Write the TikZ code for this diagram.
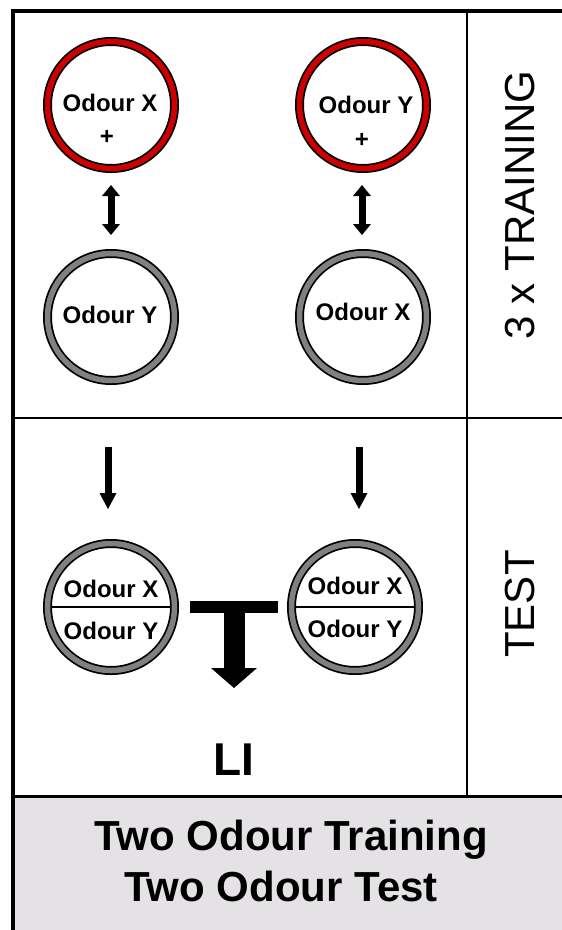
\documentclass[tikz,border=0pt]{standalone}
\usepackage{fontspec}
\setmainfont{Liberation Sans}
\usetikzlibrary{arrows.meta,calc}
\definecolor{ringred}{RGB}{204,0,0}
\definecolor{ringgray}{RGB}{128,128,128}
\definecolor{footgray}{RGB}{228,226,229}
\begin{document}
\begin{tikzpicture}[x=1pt,y=-1pt,
  ring/.style={circle, draw=black, line width=1.75pt, double distance=5.5pt, fill=white, minimum size=127pt, inner sep=0pt, outer sep=4.5pt},
  redring/.style={ring, double=ringred},
  grayring/.style={ring, double=ringgray},
  lbl/.style={font=\fontsize{24}{28}\selectfont\bfseries, inner sep=0pt, anchor=base},
  side/.style={font=\fontsize{42}{50}\selectfont, inner sep=0pt, anchor=base, rotate=90},
  foot/.style={font=\fontsize{42}{50}\selectfont\bfseries, inner sep=0pt, anchor=base},
  dbl/.style={line width=7pt, {Triangle[width=18pt,length=11pt,line width=0pt]}-{Triangle[width=18pt,length=11pt,line width=0pt]}},
  dn/.style={line width=7pt, -{Triangle[width=17pt,length=16pt,line width=0pt]}},
  big/.style={line width=21pt, -{Triangle[width=46pt,length=20pt,line width=0pt]}},
]
\useasboundingbox (0,0) rectangle (562,930);
% frame
\fill[footgray] (13,796) rectangle (562,930);
\draw[line width=4pt] (13,930) -- (13,11) -- (562,11);
\draw[line width=2pt] (13,418) -- (562,418);
\draw[line width=3pt] (13,796) -- (562,796);
\draw[line width=2.5pt] (467,11) -- (467,796);
% training circles
\node[redring] (a1) at (111,105) {};
\node[grayring] (a2) at (111,317) {};
\node[redring] (b1) at (363,105) {};
\node[grayring] (b2) at (363,317) {};
\node[lbl] (a1x) at (110,111) {Odour X};
\node[lbl] (a1p) at (107,144) {+};
\node[lbl] (a2y) at (110,323) {Odour Y};
\node[lbl] (b1y) at (366,113) {Odour Y};
\node[lbl] (b1p) at (362,147) {+};
\node[lbl] (b2x) at (363,320) {Odour X};
% test circles
\node[grayring] (t1) at (111,607) {};
\node[grayring] (t2) at (355,607) {};
\draw[line width=1.5pt] ($(t1.center)+(-59.5,0)$) -- ($(t1.center)+(59.5,0)$);
\draw[line width=1.5pt] ($(t2.center)+(-59.5,0)$) -- ($(t2.center)+(59.5,0)$);
\node[lbl] (t1x) at (111,597) {Odour X};
\node[lbl] (t1y) at (111,639) {Odour Y};
\node[lbl] (t2x) at (355,594) {Odour X};
\node[lbl] (t2y) at (355,637) {Odour Y};
% arrows
\draw[dbl] ($(a1.south)+(0,12)$) -- ($(a2.north)+(0,-14)$);
\draw[dbl] ($(b1.south)+(-1,12)$) -- ($(b2.north)+(-1,-14)$);
\draw[dn] ($(a2.south)+(-3,62)$) -- ($(t1.north)+(-3,-30)$);
\draw[dn] ($(b2.south)+(-4,62)$) -- ($(t2.north)+(4,-30)$);
% T arrow and LI
\node[fill=black, minimum width=88pt, minimum height=12pt, inner sep=0pt, outer sep=0pt] (bar) at (234,607) {};
\coordinate (tip) at (234,688);
\draw[big] (bar.south) -- (tip);
\node[font=\fontsize{46}{50}\selectfont\bfseries, inner sep=0pt, anchor=base] (li) at (234,775) {LI};
% side labels
\node[side] (tr) at (534,205) {3 x TRAINING};
\node[side] (te) at (534,604) {TEST};
% footer
\node[foot] (f1) at (291,850) {Two Odour Training};
\node[foot] (f2) at (281,901) {Two Odour Test};
\end{tikzpicture}
\end{document}
